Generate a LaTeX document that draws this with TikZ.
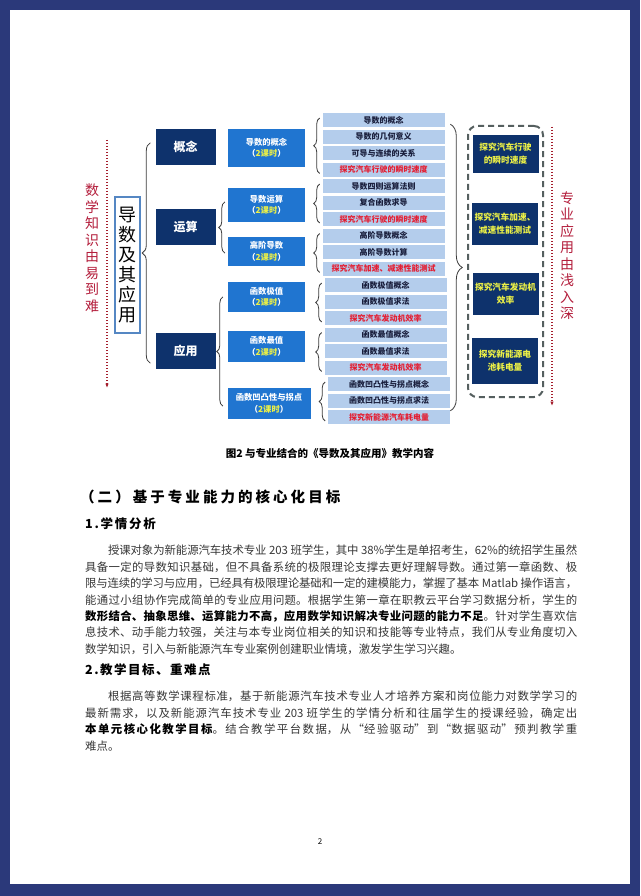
\documentclass[tikz,border=0pt]{standalone}
\usepackage{fontspec}
\setmainfont{Noto Sans CJK SC}
\usepackage{xcolor}
\usepackage{tikz}
\usetikzlibrary{arrows.meta,positioning,calc,decorations.pathreplacing}
\definecolor{pageframe}{RGB}{43,57,122}
\definecolor{navy}{RGB}{14,50,108}
\definecolor{subblue}{RGB}{32,117,208}
\definecolor{itemblue}{RGB}{180,205,236}
\definecolor{itemtxt}{RGB}{25,30,60}
\definecolor{itemred}{RGB}{228,30,50}
\definecolor{hourylw}{RGB}{236,240,70}
\definecolor{titleblue}{RGB}{85,135,195}
\definecolor{dashgray}{RGB}{85,95,95}
\definecolor{redtxt}{RGB}{180,30,60}
\definecolor{dotred}{RGB}{165,30,45}
\definecolor{bodytxt}{RGB}{55,55,55}
\definecolor{brcgray}{RGB}{60,60,60}
\XeTeXlinebreaklocale "zh"
\XeTeXlinebreakskip=0pt plus 2pt minus 0.8pt
\newcommand\pxfont[2]{\fontsize{#1}{#2}\selectfont}
\newcommand\keshi{（\textcolor{hourylw}{2课时}）}

\begin{document}
\begin{tikzpicture}[x=1pt,y=-1pt,>=Latex,
  every node/.style={inner sep=0pt,align=center},
  topic/.style={fill=navy,text=white,font=\bfseries\pxfont{12}{14},minimum width=60pt,minimum height=36pt},
  sub/.style={fill=subblue,text=white,font=\bfseries\pxfont{8.3}{11.5},minimum width=77pt,minimum height=30pt},
  itm/.style={fill=itemblue,draw=white,line width=0.6pt,text=itemtxt,font=\bfseries\pxfont{8}{8},minimum width=123pt,minimum height=15pt},
  itmr/.style={itm,text=itemred},
  case/.style={fill=navy,text=hourylw,font=\bfseries\pxfont{8.7}{13},minimum width=66pt,minimum height=40pt},
  vtext/.style={text=redtxt,font=\pxfont{14}{16.5}},
  brc/.style={draw=brcgray,line width=0.8pt,decorate,decoration={brace,amplitude=#1}},
  brc/.default=6pt,
  dotline/.style={draw=dotred,line width=1.2pt,dash pattern=on 1.2pt off 1.8pt,-{Latex[length=4.5pt,width=3.5pt]}},
  head/.style={anchor=west,text=black},
  para/.style={anchor=north west,text width=492pt,align=justify,text=bodytxt,font=\pxfont{11.4}{16.4}}]
\useasboundingbox (0,0) rectangle (640,896);
\fill[pageframe] (0,0) rectangle (640,896);
\fill[white] (10,10) rectangle (630,884);

% left side
\node[draw=titleblue,line width=1.8pt,fill=white,minimum width=25pt,minimum height=136pt,font=\pxfont{18}{20}] (main) at (127.5,265) {导\\数\\及\\其\\应\\用};
\node[vtext] (lefttxt) at (92,248) {数\\学\\知\\识\\由\\易\\到\\难};
\coordinate (ltop) at (107,140);
\coordinate (lbot) at (107,388);
\draw[dotline] (ltop) -- (lbot);

\node[topic] (gn) at (185.5,147) {概念};
\node[topic] (ys) at (185.5,227) {运算};
\node[topic] (yy) at (185.5,351) {应用};
\draw[brc=8pt] ($(yy.south west)+(-5,-6)$) -- ($(gn.north west)+(-5,14)$);

% sub topics
\node[sub,minimum height=38pt] (s1) at (266.5,148) {导数的概念\\\keshi};
\node[sub,minimum height=34pt] (s2) at (266.5,205) {导数运算\\\keshi};
\node[sub,minimum height=29pt] (s3) at (266.5,251.5) {高阶导数\\\keshi};
\node[sub] (s4) at (266.5,297) {函数极值\\\keshi};
\node[sub,minimum height=31pt] (s5) at (266.5,346.5) {函数最值\\\keshi};
\node[sub,minimum width=83pt,minimum height=31pt] (s6) at (269,403.5) {函数凹凸性与拐点\\\keshi};
\draw[brc] ($(s3.west)+(-3,1.5)$) -- ($(s2.west)+(-3,-3)$);
\coordinate (yb) at ($(s6.west)+(-4.5,2.5)$);
\draw[brc] (yb) -- (yb |- s4.west);

% items
\node[itm] (i0) at (383.5,120) {导数的概念};
\node[itm,below=0.9pt of i0] (i1) {导数的几何意义};
\node[itm,below=0.9pt of i1] (i2) {可导与连续的关系};
\node[itmr,below=0.9pt of i2] (i3) {探究汽车行驶的瞬时速度};
\node[itm,below=0.9pt of i3] (i4) {导数四则运算法则};
\node[itm,below=0.9pt of i4] (i5) {复合函数求导};
\node[itmr,below=0.9pt of i5] (i6) {探究汽车行驶的瞬时速度};
\node[itm,below=0.9pt of i6] (i7) {高阶导数概念};
\node[itm,below=0.9pt of i7] (i8) {高阶导数计算};
\node[itmr,below=0.9pt of i8] (i9) {探究汽车加速、减速性能测试};
\node[itm,below=0.9pt of i9,xshift=2pt] (i10) {函数极值概念};
\node[itm,below=0.9pt of i10] (i11) {函数极值求法};
\node[itmr,below=0.9pt of i11] (i12) {探究汽车发动机效率};
\node[itm,below=0.9pt of i12] (i13) {函数最值概念};
\node[itm,below=0.9pt of i13] (i14) {函数最值求法};
\node[itmr,below=0.9pt of i14] (i15) {探究汽车发动机效率};
\node[itm,below=0.9pt of i15,xshift=3.5pt] (i16) {函数凹凸性与拐点概念};
\node[itm,below=0.9pt of i16] (i17) {函数凹凸性与拐点求法};
\node[itmr,below=0.9pt of i17] (i18) {探究新能源汽车耗电量};
\draw[brc] ($(i3.west)+(-2,4)$) -- ($(i0.west)+(-2,-2)$);
\draw[brc] ($(i6.west)+(-2,4)$) -- ($(i4.west)+(-2,-2)$);
\draw[brc] ($(i9.west)+(-2,4)$) -- ($(i7.west)+(-2,-2)$);
\draw[brc] ($(i12.west)+(-2,4)$) -- ($(i10.west)+(-2,-2)$);
\draw[brc] ($(i15.west)+(-2,4)$) -- ($(i13.west)+(-2,-2)$);
\draw[brc] ($(i18.west)+(-2,4)$) -- ($(i16.west)+(-2,-2)$);
\coordinate (rb) at ($(i0.north east)+(5,12)$);
\draw[brc=12pt] (rb) -- ($(rb |- i18.south)+(0,-14)$);

% cases
\node[draw=dashgray,line width=2pt,dash pattern=on 6pt off 4pt,rounded corners=9pt,minimum width=75pt,minimum height=271pt] (dbox) at (505.5,261.5) {};
\node[case,minimum height=38pt] (c1) at (505.5,154) {探究汽车行驶\\的瞬时速度};
\node[case,minimum height=42pt] (c2) at (505,224) {探究汽车加速、\\减速性能测试};
\node[case,minimum height=42pt] (c3) at (505.5,294) {探究汽车发动机\\效率};
\node[case,minimum height=46pt] (c4) at (505,361) {探究新能源电\\池耗电量};
\coordinate (rtop) at (552,127);
\coordinate (rbot) at (552,406);
\draw[dotline] (rtop) -- (rbot);
\node[vtext] (righttxt) at (567,255.5) {专\\业\\应\\用\\由\\浅\\入\\深};

\node[font=\bfseries\pxfont{10.5}{12}] (cap) at (330,453) {图2 与专业结合的《导数及其应用》教学内容};

% text
\node[head,font=\bfseries\pxfont{14.5}{17}\addfontfeature{LetterSpace=21}] (h2) at (80,497) {（二）基于专业能力的核心化目标};
\node[head,font=\bfseries\pxfont{12.5}{15}\addfontfeature{LetterSpace=14}] (h21) at (85,524) {1.学情分析};
\node[para] (p1) at (85,545) {\tolerance=9999\hspace*{2em}授课对象为新能源汽车技术专业 203 班学生，其中 38\%学生是单招考生，62\%的统招学生虽然\linebreak
具备一定的导数知识基础，但不具备系统的极限理论支撑去更好理解导数。通过第一章函数、极\linebreak
限与连续的学习与应用，已经具有极限理论基础和一定的建模能力，掌握了基本 Matlab 操作语言，\linebreak
能通过小组协作完成简单的专业应用问题。根据学生第一章在职教云平台学习数据分析，学生的\linebreak
{\bfseries\color{black}数形结合、抽象思维、运算能力不高，应用数学知识解决专业问题的能力不足}。针对学生喜欢信\linebreak
息技术、动手能力较强，关注与本专业岗位相关的知识和技能等专业特点，我们从专业角度切入\linebreak
数学知识，引入与新能源汽车专业案例创建职业情境，激发学生学习兴趣。};
\node[head,font=\bfseries\pxfont{12.5}{15}\addfontfeature{LetterSpace=12}] (h22) at (85,670) {2.教学目标、重难点};
\node[para] (p2) at (85,691) {\tolerance=9999\hspace*{2em}根据高等数学课程标准，基于新能源汽车技术专业人才培养方案和岗位能力对数学学习的\linebreak
最新需求，以及新能源汽车技术专业 203 班学生的学情分析和往届学生的授课经验，确定出\linebreak
{\bfseries\color{black}本单元核心化教学目标}。结合教学平台数据，从“经验驱动”到“数据驱动”预判教学重\linebreak
难点。};
\node[font=\pxfont{8}{8}] (pg) at (320,842) {2};
\end{tikzpicture}
\end{document}
